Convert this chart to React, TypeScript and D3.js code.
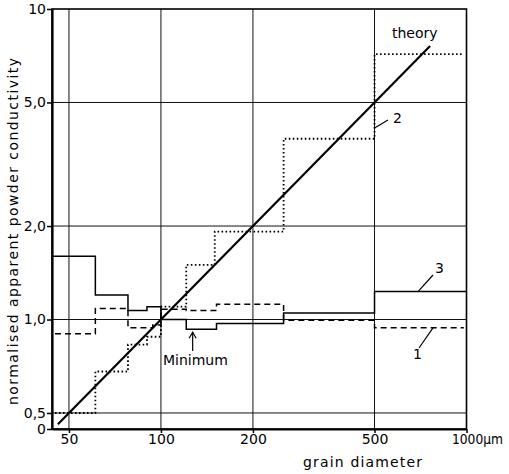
import React, { useEffect, useRef } from "react";
import * as d3 from "d3";

const xTicks = [50, 100, 200, 500, 1000];
const xTickLabels = ["50", "100", "200", "500", "1000µm"];
const yTicks = [0.444, 0.5, 1, 2, 5, 10];
const yTickLabels = ["0", "0,5", "1,0", "2,0", "5,0", "10"];
const xGrid = [50, 100, 200, 500];
const yGrid = [0.5, 1, 2, 5];

// grain size class edges (µm) and the value for each class
const edges3 = [44, 61, 78, 90, 100, 121, 152, 252, 500, 1000];
const values3 = [1.6, 1.2, 1.07, 1.1, 1.0, 0.93, 0.97, 1.05, 1.23];
const edges1 = [45, 61, 78, 94, 100, 121, 152, 252, 500, 980];
const values1 = [0.9, 1.085, 0.94, 0.96, 1.08, 1.07, 1.12, 0.995, 0.94];
const edges2 = [45, 61, 78, 90, 100, 121, 150, 252, 500, 980];
const values2 = [0.5, 0.68, 0.83, 0.88, 1.1, 1.5, 1.92, 3.82, 7.16];
const theoryX = [46, 760];
const theoryY = [0.46, 7.6];

function App() {
    const ref = useRef<SVGSVGElement>(null);

    useEffect(() => {
        const width = 509;
        const height = 474;
        const margin = { top: 9, left: 52, right: 42.5, bottom: 45 };
        const font = "'DejaVu Sans', sans-serif";

        const x = d3
            .scaleLog()
            .domain([44, 1000])
            .range([margin.left, width - margin.right]);
        const y = d3
            .scaleLog()
            .domain([0.444, 10])
            .range([height - margin.bottom, margin.top]);

        const svg = d3.select(ref.current);
        svg.selectAll("*").remove();

        const top = margin.top;
        const bottom = height - margin.bottom;
        const left = margin.left;
        const right = width - margin.right;

        // grid
        svg.append("g")
            .selectAll("line")
            .data(xGrid)
            .join("line")
            .attr("x1", (d) => x(d))
            .attr("x2", (d) => x(d))
            .attr("y1", top)
            .attr("y2", bottom)
            .attr("stroke", "#111")
            .attr("stroke-width", 1);

        svg.append("g")
            .selectAll("line")
            .data(yGrid)
            .join("line")
            .attr("x1", left)
            .attr("x2", right)
            .attr("y1", (d) => y(d))
            .attr("y2", (d) => y(d))
            .attr("stroke", "#111")
            .attr("stroke-width", 1);

        // frame
        svg.append("rect")
            .attr("x", left)
            .attr("y", top)
            .attr("width", right - left)
            .attr("height", bottom - top)
            .attr("fill", "none")
            .attr("stroke", "#000")
            .attr("stroke-width", 1.6);

        // axes
        const yAxis = d3
            .axisLeft(y)
            .tickValues(yTicks)
            .tickFormat((d, i) => yTickLabels[i])
            .tickSize(5)
            .tickSizeOuter(0)
            .tickPadding(1);
        svg.append("g")
            .attr("transform", "translate(" + left + ",0)")
            .call(yAxis)
            .call((g) => g.select(".domain").attr("stroke-width", 2.2))
            .call((g) => g.selectAll(".tick line").attr("stroke-width", 1.5))
            .call((g) =>
                g
                    .selectAll("text")
                    .attr("font-family", font)
                    .attr("font-size", 14)
                    .attr("fill", "#000")
            );

        const xAxis = d3
            .axisBottom(x)
            .tickValues(xTicks)
            .tickFormat((d, i) => xTickLabels[i])
            .tickSize(4)
            .tickSizeOuter(0)
            .tickPadding(1);
        svg.append("g")
            .attr("transform", "translate(0," + bottom + ")")
            .call(xAxis)
            .call((g) => g.select(".domain").attr("stroke-width", 2.2))
            .call((g) => g.selectAll(".tick line").attr("stroke-width", 1.5))
            .call((g) =>
                g
                    .selectAll("text")
                    .attr("font-family", font)
                    .attr("font-size", 14)
                    .attr("fill", "#000")
            )
            .call((g) =>
                g
                    .selectAll("text")
                    .filter((d, i) => i === xTicks.length - 1)
                    .attr("text-anchor", "start")
                    .attr("x", -15)
                    .attr("textLength", 51)
                    .attr("lengthAdjust", "spacingAndGlyphs")
            );

        // step series
        const step = d3
            .line<[number, number]>()
            .x((d) => x(d[0]))
            .y((d) => y(d[1]))
            .curve(d3.curveStepAfter);

        const stepPoints = (edges: number[], values: number[]) =>
            edges.map((e, i) => [e, values[Math.min(i, values.length - 1)]] as [number, number]);

        svg.append("path")
            .attr("d", step(stepPoints(edges3, values3)))
            .attr("fill", "none")
            .attr("stroke", "#000")
            .attr("stroke-width", 1.5);

        svg.append("path")
            .attr("d", step(stepPoints(edges1, values1)))
            .attr("fill", "none")
            .attr("stroke", "#000")
            .attr("stroke-width", 1.5)
            .attr("stroke-dasharray", "6 4");

        svg.append("path")
            .attr("d", step(stepPoints(edges2, values2)))
            .attr("fill", "none")
            .attr("stroke", "#000")
            .attr("stroke-width", 1.8)
            .attr("stroke-dasharray", "1.6 2.4");

        // theory line
        const theory = d3
            .line<number>()
            .x((d) => x(d))
            .y((d, i) => y(theoryY[i]));
        svg.append("path")
            .attr("d", theory(theoryX))
            .attr("fill", "none")
            .attr("stroke", "#000")
            .attr("stroke-width", 2.2);

        // labels
        const label = (tx: number, ty: number, s: string) =>
            svg.append("text")
                .attr("x", tx)
                .attr("y", ty)
                .attr("font-family", font)
                .attr("font-size", 14)
                .attr("fill", "#000")
                .text(s);

        label(392, 38, "theory");
        label(393, 123, "2");
        label(435, 273, "3");
        label(413, 359, "1");
        label(163, 365, "Minimum");

        const leader = (x1: number, y1: number, x2: number, y2: number) =>
            svg.append("line")
                .attr("x1", x1)
                .attr("y1", y1)
                .attr("x2", x2)
                .attr("y2", y2)
                .attr("stroke", "#000")
                .attr("stroke-width", 1.2);

        leader(x(500), 128, 388, 120);
        leader(418, y(values3[8]), 433, 275);
        leader(433, y(values1[8]), 419, 348);

        // arrow to the minimum
        const ax = x(127);
        leader(ax, 351, ax, y(values3[5]) + 3);
        svg.append("path")
            .attr("d", "M" + (ax - 3.5) + "," + (y(values3[5]) + 9) + "L" + ax + "," + (y(values3[5]) + 3) + "L" + (ax + 3.5) + "," + (y(values3[5]) + 9))
            .attr("fill", "none")
            .attr("stroke", "#000")
            .attr("stroke-width", 1.2);

        // axis titles
        svg.append("text")
            .attr("transform", "translate(18,231.5) rotate(-90)")
            .attr("text-anchor", "middle")
            .attr("font-family", font)
            .attr("font-size", 14)
            .attr("textLength", 347)
            .attr("lengthAdjust", "spacing")
            .attr("fill", "#000")
            .text("normalised apparent powder conductivity");

        svg.append("text")
            .attr("x", 362.5)
            .attr("y", 467)
            .attr("text-anchor", "middle")
            .attr("font-family", font)
            .attr("font-size", 14)
            .attr("textLength", 119)
            .attr("lengthAdjust", "spacing")
            .attr("fill", "#000")
            .text("grain diameter");
    }, []);

    return (
        <svg
            ref={ref}
            width={509}
            height={474}
            style={{ position: "absolute", left: 0, top: 0, background: "#fff" }}
        ></svg>
    );
}

export default App;
